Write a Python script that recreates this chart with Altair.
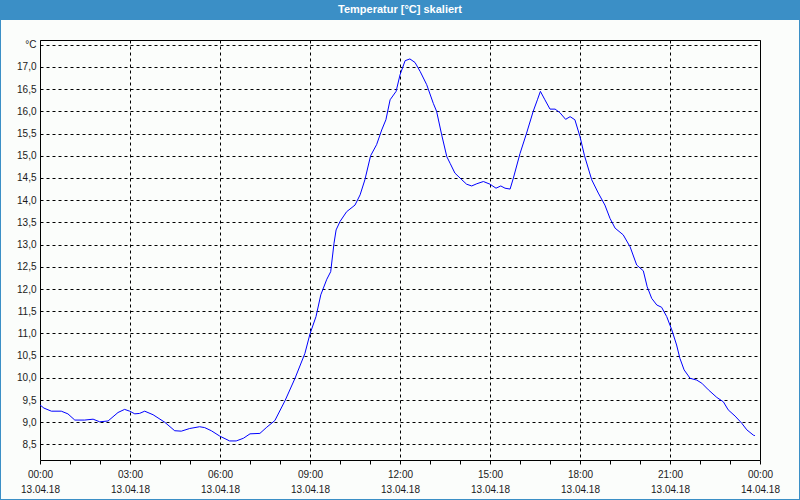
import altair as alt
import pandas as pd

# Time of day in hours (13.04.18 00:00 -> 14.04.18 00:00)
hours = [0, 0.13, 0.38, 0.71, 0.93, 1.16, 1.49, 1.77, 1.99, 2.27, 2.6, 2.82, 2.99,
         3.16, 3.32, 3.49, 3.77, 4.16, 4.49, 4.71, 4.99, 5.32, 5.49, 5.71, 5.99,
         6.32, 6.54, 6.78, 7.0, 7.33, 7.56, 7.83, 8.17, 8.5, 8.83, 9.0, 9.2, 9.36,
         9.56, 9.69, 9.8, 9.87, 10.0, 10.22, 10.5, 10.67, 10.83, 11.02, 11.22,
         11.39, 11.53, 11.67, 11.87, 12.0, 12.17, 12.33, 12.5, 12.67, 12.89,
         13.11, 13.22, 13.39, 13.56, 13.67, 13.83, 14.06, 14.22, 14.39, 14.56,
         14.78, 15.0, 15.2, 15.36, 15.5, 15.67, 15.78, 16.0, 16.22, 16.44, 16.58,
         16.68, 16.83, 17.0, 17.17, 17.33, 17.52, 17.67, 17.83, 18.0, 18.15,
         18.39, 18.61, 18.83, 19.0, 19.17, 19.44, 19.67, 19.89, 20.11, 20.24,
         20.39, 20.56, 20.72, 20.89, 21.06, 21.22, 21.33, 21.47, 21.67, 21.89,
         22.06, 22.28, 22.56, 22.78, 22.94, 23.17, 23.39, 23.56, 23.78, 23.83]

temps = [9.39, 9.32, 9.25, 9.25, 9.19, 9.05, 9.05, 9.07, 9.01, 9.03, 9.22, 9.29, 9.25,
         9.19, 9.2, 9.25, 9.17, 9.0, 8.81, 8.8, 8.86, 8.9, 8.88, 8.81, 8.69,
         8.58, 8.58, 8.64, 8.74, 8.75, 8.89, 9.04, 9.49, 9.99, 10.55, 10.99, 11.38, 11.87,
         12.22, 12.39, 13.03, 13.33, 13.52, 13.74, 13.89, 14.12, 14.46, 15.0, 15.25,
         15.58, 15.81, 16.26, 16.45, 16.82, 17.14, 17.18, 17.1, 16.9, 16.6,
         16.18, 16.0, 15.47, 14.98, 14.83, 14.61, 14.46, 14.36, 14.32, 14.37,
         14.42, 14.36, 14.27, 14.32, 14.27, 14.25, 14.5, 15.05, 15.51, 16.0, 16.26,
         16.45, 16.26, 16.05, 16.05, 15.97, 15.82, 15.88, 15.81, 15.43, 15.0,
         14.46, 14.16, 13.89, 13.59, 13.37, 13.22, 12.95, 12.54, 12.41, 12.05,
         11.79, 11.64, 11.59, 11.38, 11.08, 10.74, 10.44, 10.18, 9.99, 9.95,
         9.88, 9.73, 9.56, 9.46, 9.28, 9.14, 8.98, 8.83, 8.71, 8.7]

x_ticks = list(range(25))
y_ticks = [8.5, 9.0, 9.5, 10.0, 10.5, 11.0, 11.5, 12.0, 12.5, 13.0, 13.5, 14.0,
           14.5, 15.0, 15.5, 16.0, 16.5, 17.0, 17.5]
title_text = "Temperatur [°C] skaliert"
unit_label = "°C"
date_day = "13.04.18"
date_next = "14.04.18"

df = pd.DataFrame({"h": hours, "t": temps})

FONT = "Liberation Sans"
BLUE = "#3b8fc6"

x_label_expr = (
    "datum.value % 3 == 0 ? [ (datum.value % 24 < 10 ? '0' : '') + (datum.value % 24) + ':00', "
    f"datum.value == 24 ? '{date_next}' : '{date_day}'] : ''"
)
y_label_expr = (
    f"datum.value == 17.5 ? '{unit_label}' : replace(format(datum.value, '.1f'), '.', ',')"
)

x_enc = alt.X(
    "h:Q",
    scale=alt.Scale(domain=[0, 24], nice=False, zero=False),
    axis=alt.Axis(
        values=x_ticks,
        labelExpr=x_label_expr,
        labelFlush=False,
        labelOverlap=False,
        labelFont=FONT,
        labelFontSize=10,
        labelColor="#1a1a1a",
        labelPadding=5,
        labelLineHeight=15,
        tickSize=4,
        tickColor="black",
        domain=False,
        grid=True,
        gridColor="black",
        gridDash=[3, 3],
        gridOpacity={"condition": {"test": "datum.value % 3 == 0", "value": 1}, "value": 0},
        title=None,
    ),
)
y_enc = alt.Y(
    "t:Q",
    scale=alt.Scale(domain=[8.151, 17.606], nice=False, zero=False),
    axis=alt.Axis(
        values=y_ticks,
        labelExpr=y_label_expr,
        labelFont=FONT,
        labelFontSize=10,
        labelColor="#1a1a1a",
        labelPadding=4,
        ticks=False,
        domain=False,
        grid=True,
        gridColor="black",
        gridDash=[3, 3],
        title=None,
    ),
)

line = alt.Chart(df).mark_line(color="#0000ff", strokeWidth=1, clip=True).encode(x=x_enc, y=y_enc)

bar = alt.Chart(df).mark_rect(color=BLUE).encode(
    x=alt.value(-40), x2=alt.value(760), y=alt.value(-40), y2=alt.value(-20)
)
border = alt.Chart(df).mark_rect(filled=False, stroke=BLUE, strokeWidth=2).encode(
    x=alt.value(-40), x2=alt.value(760), y=alt.value(-40), y2=alt.value(460)
)
title = alt.Chart(pd.DataFrame({"s": [title_text]})).mark_text(
    color="white", font=FONT, fontSize=11, fontWeight="bold", baseline="middle", align="center"
).encode(text="s:N", x=alt.value(360), y=alt.value(-30))

chart = alt.layer(line, bar, border, title).properties(
    width=720,
    height=420,
    autosize=alt.AutoSizeParams(type="none"),
    padding={"left": 40, "top": 40, "right": 40, "bottom": 40},
    background="#fbfdfb",
).configure_view(stroke="black", strokeWidth=1)

chart.save("out.html", embed_options={"renderer": "svg", "actions": False})
